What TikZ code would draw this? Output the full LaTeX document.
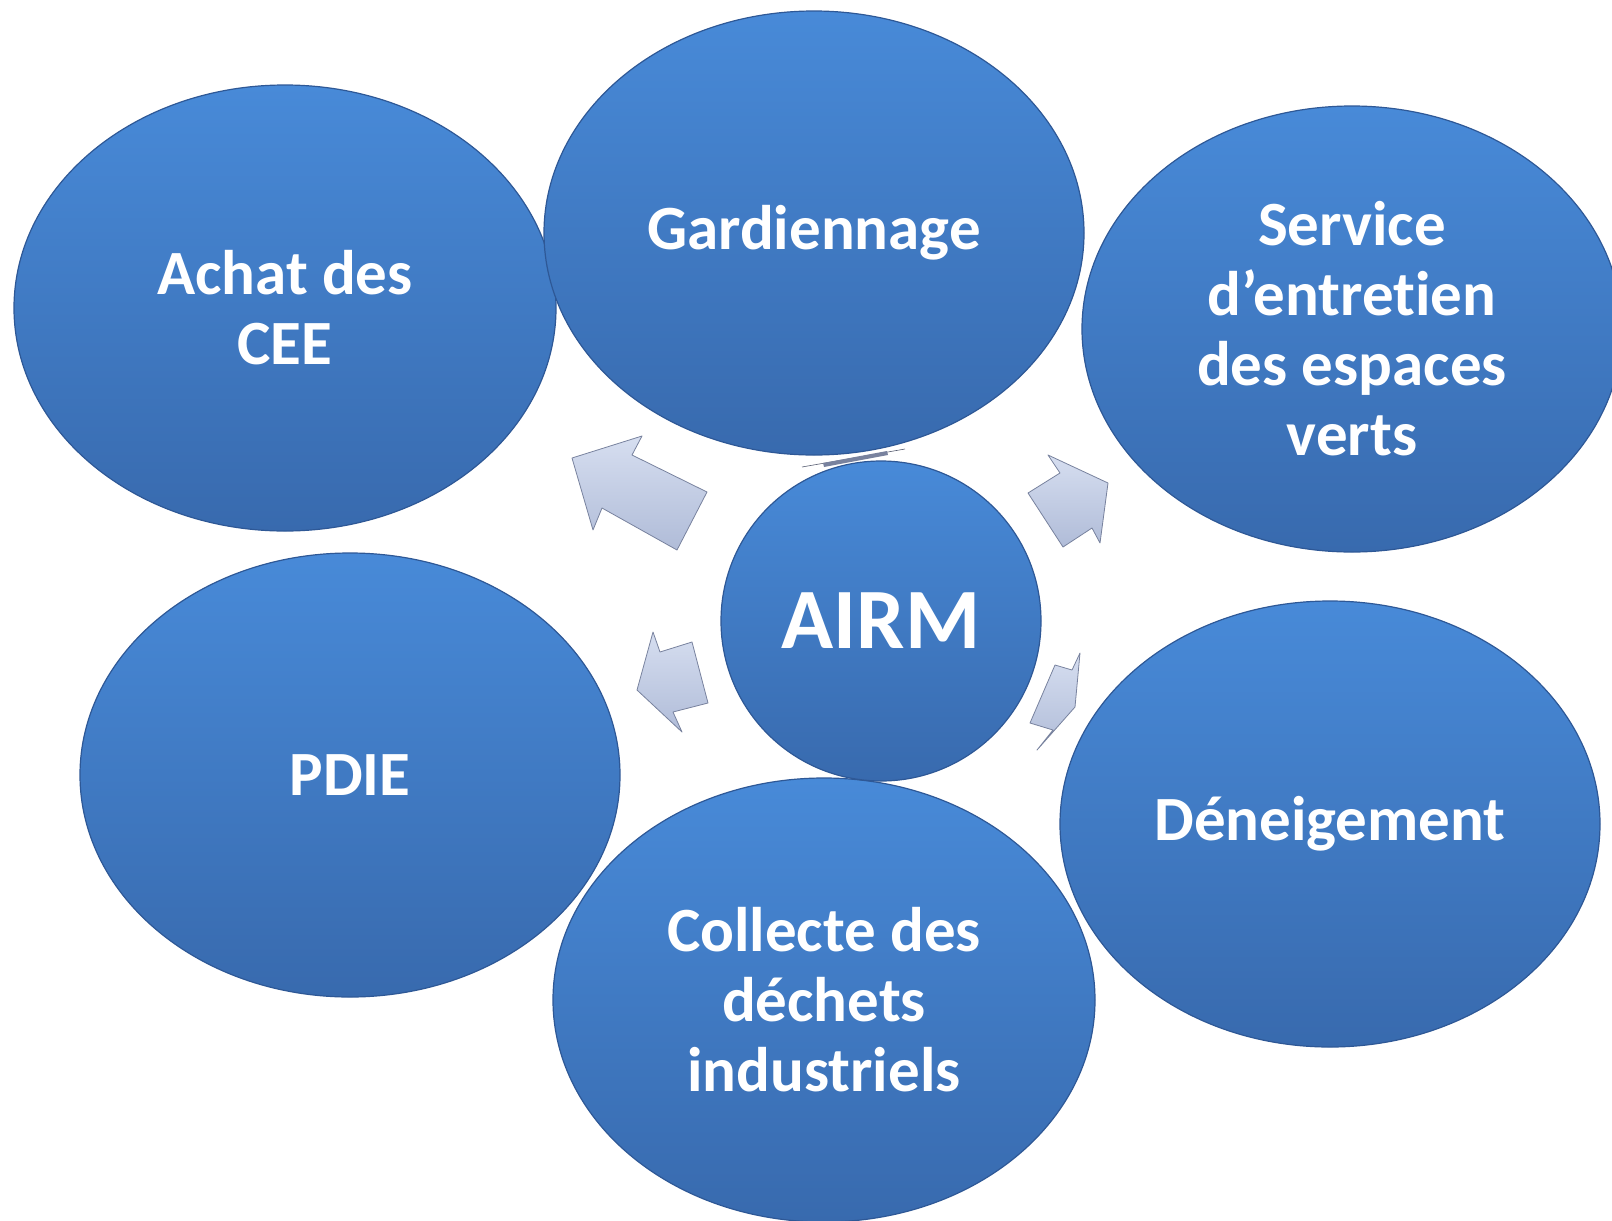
\documentclass[tikz,border=0pt]{standalone}
\usepackage{fontspec}
\setmainfont{Carlito}[Ligatures={NoCommon,NoRare}]
\usetikzlibrary{shapes.geometric}
\definecolor{blueTop}{RGB}{72,138,216}
\definecolor{blueBot}{RGB}{56,106,174}
\definecolor{blueRim}{RGB}{46,88,150}
\definecolor{arrFill}{RGB}{176,188,216}
\definecolor{arrLight}{RGB}{214,222,240}
\definecolor{arrEdge}{RGB}{120,130,158}
\tikzset{
  bubble/.style={ellipse, inner sep=0pt, outer sep=0pt, draw=blueRim, line width=1.2pt,
    top color=blueTop, bottom color=blueBot, text=white, align=center,
    font=\fontsize{63}{70}\selectfont\bfseries},
  hub/.style={bubble, circle, minimum size=320pt, font=\fontsize{86}{90}\selectfont\bfseries},
  blockarrow/.style={draw=arrEdge, line width=0.8pt, top color=arrLight, bottom color=arrFill, line join=round},
}
\begin{document}
\begin{tikzpicture}[x=1pt,y=-1pt]
\useasboundingbox (0,0) rectangle (1612,1221);
% satellites
\node[bubble, minimum width=542pt, minimum height=446pt] (achat) at (285,308) {Achat des\\CEE};
\node[bubble, minimum width=540pt, minimum height=444pt] (gard) at (814,233) {Gardiennage};
\node[bubble, minimum width=540pt, minimum height=446pt] (serv) at (1352,329) {\raisebox{0pt}{Service}\\d’entretien\\des espaces\\verts};
\node[bubble, minimum width=540pt, minimum height=444pt] (pdie) at (350,775) {PDIE};
\node[bubble, minimum width=540pt, minimum height=446pt] (den) at (1330,824) {Déneigement};
\node[bubble, minimum width=542pt, minimum height=444pt] (coll) at (824,1000) {Collecte des\\déchets\\industriels};
% hub
\node[hub] (airm) at (881,621) {AIRM};
% arrows (block arrows in perspective)
\draw[blockarrow] (707,492) -- (677,550) -- (602,508) -- (593,530) -- (572,458) -- (642,436) -- (632,455) -- cycle;
\draw[blockarrow] (1028,493) -- (1060,473) -- (1048,455) -- (1108,483) -- (1100,543) -- (1092,528) -- (1063,547) -- cycle;
\draw[blockarrow] (692,642) -- (660,652) -- (653,632) -- (637,690) -- (682,732) -- (673,712) -- (708,703) -- cycle;
\draw[blockarrow] (1055,665) -- (1072,670) -- (1080,653) -- (1075,707) -- (1037,750) -- (1053,730) -- (1030,723) -- cycle;
% edge-on arrow under Gardiennage
\draw[arrEdge!70!black, line width=0.6pt] (802,467) -- (905,449);
\fill[arrEdge] (823,463) -- (887,451) -- (888,455) -- (824,467) -- cycle;
\end{tikzpicture}
\end{document}
